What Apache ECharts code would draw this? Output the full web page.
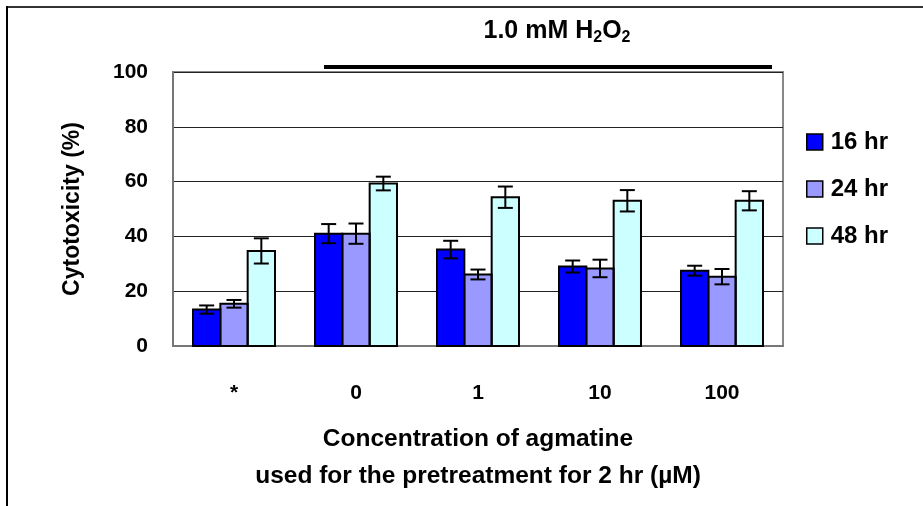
<!DOCTYPE html>
<html><head><meta charset="utf-8">
<script src="https://cdn.jsdelivr.net/npm/echarts@6/dist/echarts.min.js"></script>
<style>html,body{margin:0;padding:0;background:#fff}#chart{width:923px;height:506px}</style>
</head><body><div id="chart"></div>
<script>
// Agmatine pretreatment vs. H2O2 cytotoxicity, mean ± error per exposure time
const categories = ['*', '0', '1', '10', '100'];
const seriesNames = ['16 hr', '24 hr', '48 hr'];
const mean16 = [13.3, 41.0, 35.2, 29.0, 27.5];
const err16  = [1.5, 3.5, 3.2, 2.2, 1.8];
const mean24 = [15.4, 41.0, 26.1, 28.3, 25.3];
const err24  = [1.4, 3.7, 1.8, 3.2, 2.8];
const mean48 = [34.7, 59.3, 54.3, 53.0, 53.0];
const err48  = [4.6, 2.5, 3.9, 3.9, 3.5];
const yTicks = [0, 20, 40, 60, 80, 100];

const FONT = '"Liberation Sans", Arial, sans-serif';
const colors = ['#0000FF', '#9999FF', '#CCFFFF'];
const means = [mean16, mean24, mean48];
const errs = [err16, err24, err48];
const BAR_FRAC = 0.224;   // each bar's share of a category band

const chart = echarts.init(document.getElementById('chart'));

// Black outline of each bar plus its error bar, placed on the bar's slot
function outlineRender(slot) {
  return function (params, api) {
    const ci = api.value(0), v = api.value(1), e = api.value(2);
    const band = api.size([1, 0])[0];
    const barW = band * BAR_FRAC;
    const cx = api.coord([ci, 0])[0] + (slot - 1) * barW;
    const y0 = api.coord([ci, 0])[1];
    const yTop = api.coord([ci, v])[1];
    const yHi = api.coord([ci, v + e])[1];
    const yLo = api.coord([ci, v - e])[1];
    const cap = 7.5;
    const st = { stroke: '#000', lineWidth: 2, fill: null };
    return {
      type: 'group',
      children: [
        { type: 'rect', shape: { x: cx - barW / 2, y: yTop, width: barW, height: y0 - yTop }, style: st },
        { type: 'line', shape: { x1: cx, y1: yHi, x2: cx, y2: yLo }, style: st },
        { type: 'line', shape: { x1: cx - cap, y1: yHi, x2: cx + cap, y2: yHi }, style: st },
        { type: 'line', shape: { x1: cx - cap, y1: yLo, x2: cx + cap, y2: yLo }, style: st }
      ]
    };
  };
}

const series = [];
seriesNames.forEach((name, i) => {
  series.push({
    name: name,
    type: 'bar',
    data: means[i],
    barWidth: (BAR_FRAC * 100) + '%',
    barGap: '0%',
    itemStyle: { color: colors[i], borderWidth: 0 },
    z: 2
  });
});
seriesNames.forEach((name, i) => {
  series.push({
    type: 'custom',
    renderItem: outlineRender(i),
    data: categories.map((c, k) => [k, means[i][k], errs[i][k]]),
    encode: { x: 0, y: 1 },
    z: 5,
    silent: true
  });
});

chart.setOption({
  animation: false,
  backgroundColor: '#fff',
  textStyle: { fontFamily: FONT },
  grid: {
    left: 173, top: 72, right: 140, bottom: 160,
    show: true, borderColor: '#888', borderWidth: 2, backgroundColor: 'transparent'
  },
  title: {
    text: '{a|1.0 mM H}{s|2}{a|O}{s|2}',
    left: 552, top: 12, textAlign: 'center',
    textStyle: {
      rich: {
        a: { fontFamily: FONT, fontWeight: 'bold', fontSize: 25, color: '#000' },
        s: { fontFamily: FONT, fontWeight: 'bold', fontSize: 16, color: '#000', padding: [13, 0, 0, 0] }
      }
    }
  },
  legend: {
    orient: 'vertical',
    left: 801, top: 125,
    itemWidth: 16, itemHeight: 16, itemGap: 23,
    icon: 'rect',
    data: seriesNames,
    itemStyle: { borderColor: '#000', borderWidth: 1.5 },
    textStyle: { fontFamily: FONT, fontWeight: 'bold', fontSize: 24, color: '#000', padding: [0, 0, 0, 3] }
  },
  xAxis: {
    type: 'category',
    data: categories,
    axisLine: { show: true, lineStyle: { color: '#777', width: 2 } },
    axisTick: { show: false },
    axisLabel: { margin: 37, fontFamily: FONT, fontWeight: 'bold', fontSize: 21, color: '#000' },
    name: 'Concentration of agmatine\nused for the pretreatment for 2 hr (µM)',
    nameLocation: 'middle',
    nameGap: 75,
    nameTextStyle: { fontFamily: FONT, fontWeight: 'bold', fontSize: 24.5, color: '#000', lineHeight: 37 }
  },
  yAxis: {
    type: 'value',
    min: yTicks[0], max: yTicks[yTicks.length - 1], interval: yTicks[1] - yTicks[0],
    axisLine: { show: true, lineStyle: { color: '#777', width: 2 } },
    axisTick: { show: false },
    splitLine: { lineStyle: { color: '#222', width: 1 } },
    axisLabel: { margin: 25, fontFamily: FONT, fontWeight: 'bold', fontSize: 21, color: '#000' },
    name: 'Cytotoxicity (%)',
    nameLocation: 'middle',
    nameGap: 89,
    nameTextStyle: { fontFamily: FONT, fontWeight: 'bold', fontSize: 23, color: '#000' }
  },
  graphic: [
    { type: 'line', shape: { x1: 6, y1: 7, x2: 923, y2: 7 }, style: { stroke: '#333', lineWidth: 2 } },
    { type: 'line', shape: { x1: 7, y1: 6, x2: 7, y2: 506 }, style: { stroke: '#000', lineWidth: 2 } },
    { type: 'line', shape: { x1: 324, y1: 67, x2: 772, y2: 67 }, style: { stroke: '#000', lineWidth: 4 } }
  ],
  series: series
});
</script>
</body></html>
